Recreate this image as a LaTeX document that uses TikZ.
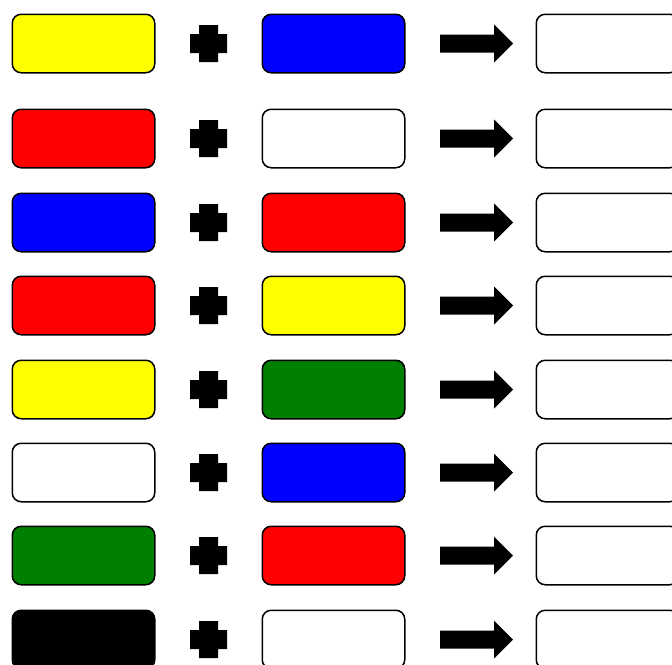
\documentclass[tikz,border=0pt]{standalone}
\usepackage{xcolor}
\usetikzlibrary{positioning}
\definecolor{mixgreen}{RGB}{0,128,0}
\definecolor{mixyellow}{RGB}{255,255,0}
\definecolor{mixred}{RGB}{255,0,0}
\definecolor{mixblue}{RGB}{0,0,255}

\begin{document}
\begin{tikzpicture}[
            x=1pt, y=-1pt,
            node distance=106pt,
            every node/.style={rectangle, draw, rounded corners=9pt, line width=1.5pt, minimum width=142.5pt, minimum height=58.5pt, inner sep=0pt},
            sign style/.style={fill=black}
        ]
        \useasboundingbox (0,0) rectangle (672,664);

        \foreach \y/\cl/\cr [count=\i] in {43.5/mixyellow/mixblue, 138.5/mixred/white, 222.5/mixblue/mixred, 305.5/mixred/mixyellow, 389.5/mixyellow/mixgreen, 472.5/white/mixblue, 555.5/mixgreen/mixred, 639.5/black/white}
        {
        \node[fill=\cl] (a\i) at (83.5,\y) {};
        \node[fill=\cr] (b\i) [right=of a\i] {};
        \node[fill=white] (c\i) [right=130pt of b\i] {};

        % plus
        \fill[sign style, shift={(208.5,\y)}] (-9.5,-18.5) -- (9.5,-18.5) -- (9.5,-9.5) -- (18.5,-9.5) -- (18.5,9.5) -- (9.5,9.5) -- (9.5,18.5) -- (-9.5,18.5) -- (-9.5,9.5) -- (-18.5,9.5) -- (-18.5,-9.5) -- (-9.5,-9.5) -- cycle;
        % arrow
        \fill[sign style, shift={(440,\y)}] (0,-9) -- (54,-9) -- (54,-19) -- (73,0) -- (54,19) -- (54,9) -- (0,9) -- cycle;
        }
        \end{tikzpicture}
\end{document}
